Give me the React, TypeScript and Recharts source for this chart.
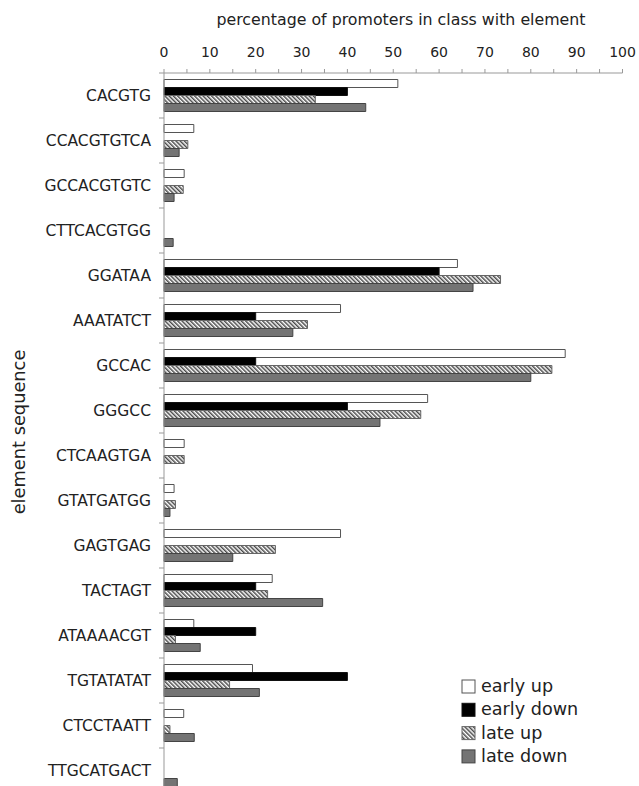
import React from 'react';
import { BarChart, Bar, XAxis, YAxis } from 'recharts';

const categories = ['CACGTG', 'CCACGTGTCA', 'GCCACGTGTC', 'CTTCACGTGG', 'GGATAA', 'AAATATCT', 'GCCAC', 'GGGCC', 'CTCAAGTGA', 'GTATGATGG', 'GAGTGAG', 'TACTAGT', 'ATAAAACGT', 'TGTATATAT', 'CTCCTAATT', 'TTGCATGACT'];
const earlyUp = [51, 6.5, 4.4, 0, 64, 38.5, 87.5, 57.5, 4.4, 2.2, 38.5, 23.6, 6.5, 19.3, 4.3, 0];
const earlyDown = [40, 0, 0, 0, 60, 20, 20, 40, 0, 0, 0, 20, 20, 40, 0, 0];
const lateUp = [33, 5.2, 4.2, 0, 73.4, 31.3, 84.6, 56, 4.4, 2.5, 24.3, 22.6, 2.5, 14.3, 1.3, 0];
const lateDown = [44, 3.3, 2.2, 2, 67.4, 28.1, 80, 47.1, 0, 1.3, 15, 34.6, 7.9, 20.8, 6.6, 2.9];
const xTicks = [0, 5, 10, 15, 20, 25, 30, 35, 40, 45, 50, 55, 60, 65, 70, 75, 80, 85, 90, 95, 100];
const seriesNames = ['early up', 'early down', 'late up', 'late down'];
const xTitle = 'percentage of promoters in class with element';
const yTitle = 'element sequence';

const data = categories.map((c, i) => ({
  name: c,
  earlyUp: earlyUp[i],
  earlyDown: earlyDown[i],
  lateUp: lateUp[i],
  lateDown: lateDown[i],
}));

const FONT = '"DejaVu Sans", sans-serif';
const CHART_W = 639;
const CHART_H = 801;
const TOP = 73;
const BOTTOM = 8;
const BAND = (CHART_H - TOP - BOTTOM) / categories.length;

const fills = ['#ffffff', '#000000', 'url(#hatch)', '#747474'];
const strokes = ['#555555', '#111111', '#666666', '#444444'];

const YTick = (props: any) => {
  const { x, y, payload } = props;
  return (
    <g>
      <text x={x} y={y} dy={5.5} textAnchor="end" fontSize={15.5} fontFamily={FONT} fill="#222">
        {payload.value}
      </text>
      <line x1={x + 8} x2={x + 13} y1={y - BAND / 2} y2={y - BAND / 2} stroke="#999" />
    </g>
  );
};

export default function App() {
  return (
    <div style={{ position: 'absolute', left: 0, top: 0, width: 639, height: 786, overflow: 'hidden', background: '#fff' }}>
      <svg width={0} height={0} style={{ position: 'absolute' }}>
        <defs>
          <pattern id="hatch" patternUnits="userSpaceOnUse" width={3} height={3} patternTransform="rotate(-45)">
            <rect x={0} y={0} width={3} height={3} fill="#ffffff" />
            <line x1={0.75} y1={0} x2={0.75} y2={3} stroke="#4a4a4a" strokeWidth={1.5} />
          </pattern>
        </defs>
      </svg>
      <BarChart
        width={CHART_W}
        height={CHART_H}
        data={data}
        layout="vertical"
        margin={{ top: 0, right: 16.5, left: 0, bottom: BOTTOM }}
        barCategoryGap={6.5}
        barGap={0}
      >
        <XAxis
          type="number"
          orientation="top"
          domain={[0, 100]}
          ticks={xTicks}
          interval={0}
          height={TOP}
          tickSize={4}
          tickMargin={12}
          tickFormatter={(v: number) => (v % 10 === 0 ? String(v) : '')}
          tick={{ fontSize: 14, fontFamily: FONT, fill: '#222' }}
          axisLine={{ stroke: '#999' }}
          tickLine={{ stroke: '#999' }}
        />
        <YAxis
          type="category"
          dataKey="name"
          width={164}
          tickSize={0}
          tickMargin={13}
          interval={0}
          tick={<YTick />}
          axisLine={{ stroke: '#999' }}
          tickLine={false}
        />
        {['earlyUp', 'earlyDown', 'lateUp', 'lateDown'].map((k, i) => (
          <Bar key={k} dataKey={k} name={seriesNames[i]} fill={fills[i]} stroke={strokes[i]} strokeWidth={1} isAnimationActive={false} />
        ))}
      </BarChart>
      <svg width={639} height={786} style={{ position: 'absolute', left: 0, top: 0, pointerEvents: 'none' }}>
        <text x={401} y={25} textAnchor="middle" fontSize={15.8} fontFamily={FONT} fill="#222">{xTitle}</text>
        <text x={25} y={432} transform="rotate(-90 25 432)" textAnchor="middle" fontSize={17.8} fontFamily={FONT} fill="#222">{yTitle}</text>
        {seriesNames.map((n, i) => (
          <g key={n}>
            <rect x={462} y={680 + i * 23.3} width={13} height={13} fill={fills[i]} stroke={strokes[i]} strokeWidth={1} />
            <text x={481} y={692 + i * 23.3} fontSize={17.6} fontFamily={FONT} fill="#222">{n}</text>
          </g>
        ))}
      </svg>
    </div>
  );
}
